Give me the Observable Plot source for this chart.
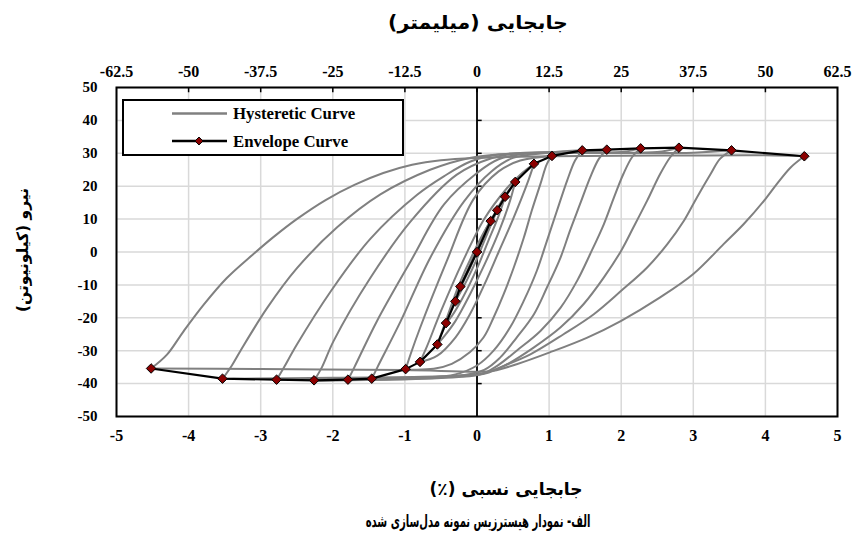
<!DOCTYPE html>
<html>
<head>
<meta charset="utf-8">
<script src="https://cdn.jsdelivr.net/npm/d3@7"></script>
<script src="https://cdn.jsdelivr.net/npm/@observablehq/plot@0.6"></script>
<style>
  body { margin: 0; background: #fff; }
  #wrap { position: relative; width: 855px; height: 551px; overflow: hidden; }
  .fa { position: absolute; font-family: "DejaVu Sans", sans-serif; font-weight: bold; color: #000;
        white-space: nowrap; direction: rtl; line-height: 1; }
</style>
</head>
<body>
<div id="wrap"></div>
<script>
// Axis ticks and labels
const driftTicks = [-5, -4, -3, -2, -1, 0, 1, 2, 3, 4, 5];
const driftLabels = ["-5", "-4", "-3", "-2", "-1", "0", "1", "2", "3", "4", "5"];
const mmLabels = ["-62.5", "-50", "-37.5", "-25", "-12.5", "0", "12.5", "25", "37.5", "50", "62.5"];
const forceTicks = [-50, -40, -30, -20, -10, 0, 10, 20, 30, 40, 50];
const forceLabels = ["-50", "-40", "-30", "-20", "-10", "0", "10", "20", "30", "40", "50"];

// Envelope (peak) points: drift (%) and force (kN)
const envelopeDrift = [-4.52, -3.53, -2.78, -2.26, -1.79, -1.46, -0.99, -0.79, -0.55, -0.43, -0.30, -0.23, 0,
                       0.19, 0.28, 0.39, 0.53, 0.79, 1.04, 1.46, 1.80, 2.27, 2.80, 3.53, 4.54];
const envelopeForce = [-35.4, -38.5, -38.8, -39.0, -38.8, -38.5, -35.6, -33.4, -28.1, -21.6, -15.0, -10.5, 0,
                       9.4, 12.7, 16.8, 21.3, 26.8, 29.2, 30.9, 31.1, 31.5, 31.7, 30.9, 29.1];

// Hysteresis loops: loading branches (negative peak -> positive peak)
const risingBranches = [
  [[-4.52,-35.4],[-4.30,-31.2],[-4.07,-24.1],[-3.79,-16.0],[-3.47,-7.9],[-3.10,-0.6],[-2.82,4.6],[-2.50,10.0],
   [-2.10,15.8],[-1.70,20.4],[-1.30,24.0],[-0.90,26.5],[-0.50,27.9],[0,28.6],[1,29.1],[2.5,29.3],[4.0,29.4],[4.54,29.1]],
  [[-3.53,-38.6],[-3.40,-34.5],[-3.28,-30.0],[-2.91,-17.0],[-2.50,-5.0],[-1.94,7.5],[-1.34,17.5],[-0.65,25.0],
   [-0.10,28.6],[0.4,29.8],[1.5,30.1],[3.0,30.2],[3.53,30.9]],
  [[-2.78,-38.9],[-2.68,-35.2],[-2.50,-28.2],[-2.03,-12.0],[-1.48,4.0],[-0.83,17.4],[-0.46,23.0],[-0.09,27.5],
   [0.3,29.6],[1.5,30.2],[2.5,30.4],[2.80,31.7]],
  [[-2.26,-39.1],[-2.15,-35.0],[-1.99,-27.1],[-1.48,-7.9],[-0.92,9.3],[-0.28,23.5],[0.2,28.5],[0.6,30.1],
   [2.0,30.4],[2.27,31.5]],
  [[-1.79,-38.9],[-1.70,-35.0],[-1.39,-21.1],[-0.92,-2.8],[-0.46,14.4],[0,24.0],[0.3,28.2],[0.8,30.2],
   [1.6,30.5],[1.80,31.1]],
  [[-1.46,-38.6],[-1.38,-35.0],[-1.06,-21.1],[-0.65,-1.8],[-0.18,15.4],[0.2,24.5],[0.5,28.6],[1.0,30.2],[1.46,30.9]],
  [[-0.99,-35.7],[-0.92,-31.0],[-0.79,-23.1],[-0.42,-2.8],[-0.05,16.0],[0.3,24.5],[0.6,27.8],[1.04,29.2]],
  [[-0.79,-33.4],[-0.70,-29.0],[-0.50,-18.0],[-0.20,-3.0],[0.10,10.0],[0.40,19.0],[0.60,23.5],[0.79,26.8]],
  [[-0.55,-28.1],[-0.45,-22.0],[-0.25,-10.0],[0,2.0],[0.20,10.0],[0.40,17.5],[0.53,21.3]],
  [[-0.43,-21.6],[-0.30,-14.0],[-0.10,-4.0],[0.10,6.0],[0.30,13.5],[0.39,16.8]],
  [[-0.30,-15.0],[-0.15,-7.0],[0.05,2.5],[0.20,9.5],[0.28,12.7]],
  [[-0.23,-10.5],[-0.10,-4.5],[0.05,3.0],[0.19,9.4]]
];

// Hysteresis loops: unloading branches (positive peak -> negative peak)
const fallingBranches = [
  [[4.54,29.1],[4.35,25.7],[4.16,20.7],[4.00,16.1],[3.70,8.5],[3.42,2.4],[3.00,-6.7],[2.54,-13.8],[2.00,-20.9],
   [1.53,-26.0],[1.01,-30.5],[0.55,-34.1],[0.23,-36.1],[0,-36.4],[-1,-35.9],[-3,-35.6],[-4.52,-35.4]],
  [[3.53,30.9],[3.37,28.3],[3.24,23.7],[3.05,16.6],[2.87,9.5],[2.64,2.4],[2.36,-4.7],[2.00,-11.8],[1.62,-18.9],
   [1.20,-25.0],[0.74,-31.1],[0.37,-34.6],[0.10,-36.8],[-0.5,-37.8],[-2,-38.2],[-3.53,-38.6]],
  [[2.80,31.7],[2.68,28.8],[2.54,23.7],[2.36,15.6],[2.17,7.5],[2.00,0.4],[1.76,-7.7],[1.48,-15.8],[1.16,-22.9],
   [0.79,-29.0],[0.42,-34.1],[0.10,-37.0],[-0.5,-38.0],[-2,-38.5],[-2.78,-38.9]],
  [[2.27,31.5],[2.15,28.8],[2.03,23.7],[1.90,16.6],[1.76,8.5],[1.57,-0.6],[1.39,-8.7],[1.16,-16.9],[0.88,-24.0],
   [0.55,-30.0],[0.28,-34.6],[0.05,-37.2],[-0.5,-38.3],[-2.26,-39.1]],
  [[1.80,31.1],[1.69,28.3],[1.57,22.7],[1.43,14.6],[1.29,6.5],[1.16,-1.6],[0.97,-10.8],[0.79,-18.9],[0.55,-26.0],
   [0.32,-32.1],[0.10,-35.8],[-0.3,-37.8],[-1.79,-38.9]],
  [[1.46,30.9],[1.36,27.8],[1.25,21.7],[1.11,12.6],[0.97,3.4],[0.83,-5.7],[0.65,-14.8],[0.46,-22.9],[0.23,-30.0],
   [0,-34.5],[-0.3,-37.2],[-0.8,-38.2],[-1.46,-38.6]],
  [[1.04,29.2],[0.97,26.8],[0.88,20.7],[0.76,12.6],[0.65,4.4],[0.51,-4.7],[0.37,-12.8],[0.23,-19.9],[0.09,-26.0],
   [-0.10,-30.5],[-0.35,-34.0],[-0.60,-35.5],[-0.99,-35.7]],
  [[0.79,26.8],[0.70,21.0],[0.50,10.0],[0.30,0],[0.10,-10.0],[-0.10,-19.0],[-0.30,-26.0],[-0.55,-31.5],[-0.79,-33.4]],
  [[0.53,21.3],[0.45,15.0],[0.30,6.0],[0.10,-4.0],[-0.10,-13.0],[-0.30,-21.0],[-0.45,-25.5],[-0.55,-28.1]],
  [[0.39,16.8],[0.30,11.0],[0.15,3.0],[0,-5.0],[-0.20,-14.0],[-0.35,-19.5],[-0.43,-21.6]],
  [[0.28,12.7],[0.15,6.0],[0,-2.0],[-0.15,-9.0],[-0.30,-15.0]],
  [[0.19,9.4],[0.05,2.5],[-0.10,-5.0],[-0.23,-10.5]]
];

// Flatten loop branches into rows for the line mark
const loopRows = [];
risingBranches.forEach((b, i) => b.forEach(([x, y]) => loopRows.push({branch: "up" + i, x, y})));
fallingBranches.forEach((b, i) => b.forEach(([x, y]) => loopRows.push({branch: "down" + i, x, y})));
const envelope = envelopeDrift.map((x, i) => ({x, y: envelopeForce[i]}));

const serif = "'Liberation Serif', 'Times New Roman', serif";

const chart = Plot.plot({
  width: 855,
  height: 551,
  marginTop: 87,
  marginBottom: 135,
  marginLeft: 116,
  marginRight: 18,
  x: {domain: [-5, 5]},
  y: {domain: [-50, 50]},
  marks: [
    Plot.gridX({ticks: driftTicks, stroke: "#d9d9d9", strokeOpacity: 1, strokeWidth: 1.5}),
    Plot.gridY({ticks: forceTicks, stroke: "#d9d9d9", strokeOpacity: 1, strokeWidth: 1.5}),
    Plot.axisX({ticks: driftTicks, anchor: "bottom", tickSize: 0, tickPadding: 13, label: null,
                tickFormat: d => driftLabels[driftTicks.indexOf(d)]}),
    Plot.axisX({ticks: driftTicks, anchor: "top", tickSize: 0, tickPadding: 11, label: null,
                tickFormat: d => mmLabels[driftTicks.indexOf(d)]}),
    Plot.axisY({ticks: forceTicks, anchor: "left", tickSize: 0, tickPadding: 19, label: null,
                tickFormat: d => forceLabels[forceTicks.indexOf(d)]}),
    // inward tick marks on the top edge
    Plot.ruleX(driftTicks.slice(1, -1), {y1: 50, y2: 48.4, stroke: "#000", strokeWidth: 1.5}),
    // vertical axis line through zero drift with its ticks
    Plot.ruleX([0], {stroke: "#000", strokeWidth: 1.8}),
    Plot.link(forceTicks.slice(1, -1), {x1: 0, x2: 0.065, y1: d => d, y2: d => d, stroke: "#000", strokeWidth: 1.5}),
    Plot.line(loopRows, {x: "x", y: "y", z: "branch", stroke: "#808080", strokeWidth: 2, curve: "catmull-rom"}),
    Plot.line(envelope, {x: "x", y: "y", stroke: "#000", strokeWidth: 2.2}),
    Plot.dot(envelope, {x: "x", y: "y", symbol: "diamond2", r: 4.3, fill: "#8b0000", stroke: "#000", strokeWidth: 1}),
    Plot.frame({stroke: "#000", strokeWidth: 2})
  ]
});

// Tick labels in bold serif
const svg = d3.select(chart);
svg.selectAll("text")
  .style("font-family", serif)
  .style("font-weight", "bold")
  .style("font-size", "16px")
  .style("fill", "#000");
svg.selectAll("g").filter(function() {
  return (this.getAttribute("aria-label") || "").startsWith("y-axis");
}).selectAll("text").style("font-size", "15px");

// Legend box in the upper-left corner of the plot area
const lg = svg.append("g").style("font-family", serif).style("font-weight", "bold")
  .style("font-size", "16.8px").attr("text-anchor", "start").attr("fill", "#000");
lg.append("rect").attr("x", 123).attr("y", 100).attr("width", 280).attr("height", 55)
  .attr("fill", "#fff").attr("stroke", "#000").attr("stroke-width", 2);
lg.append("line").attr("x1", 172).attr("x2", 227).attr("y1", 113.5).attr("y2", 113.5)
  .attr("stroke", "#808080").attr("stroke-width", 2.5);
lg.append("text").attr("x", 233).attr("y", 113.5).attr("dy", "0.35em").text("Hysteretic Curve");
lg.append("line").attr("x1", 172).attr("x2", 227).attr("y1", 141).attr("y2", 141)
  .attr("stroke", "#000").attr("stroke-width", 2.5);
lg.append("path").attr("transform", "translate(199,141)")
  .attr("d", d3.symbol(d3.symbolDiamond2, 40)())
  .attr("fill", "#8b0000").attr("stroke", "#000").attr("stroke-width", 1);
lg.append("text").attr("x", 233).attr("y", 141).attr("dy", "0.35em").text("Envelope Curve");

const wrap = document.getElementById("wrap");
wrap.appendChild(chart);

// Persian titles
function addLabel(text, cx, cy, size, sx, rotate) {
  const d = document.createElement("div");
  d.className = "fa";
  d.textContent = text;
  d.style.left = cx + "px";
  d.style.top = cy + "px";
  d.style.fontSize = size + "px";
  d.style.transform = "translate(-50%, -50%)" + (rotate ? " rotate(-90deg)" : "") + " scaleX(" + sx + ")";
  wrap.appendChild(d);
}
addLabel("جابجایی (میلیمتر)", 478, 22, 19, 1.08);
addLabel("نیرو (کیلونیوتن)", 24, 250, 15.5, 1, true);
addLabel("جابجایی نسبی (٪)", 506, 489, 17, 1);
addLabel("الف- نمودار هیسترزیس نمونه مدل‌سازی شده", 478, 521, 17, 0.59);
</script>
</body>
</html>
